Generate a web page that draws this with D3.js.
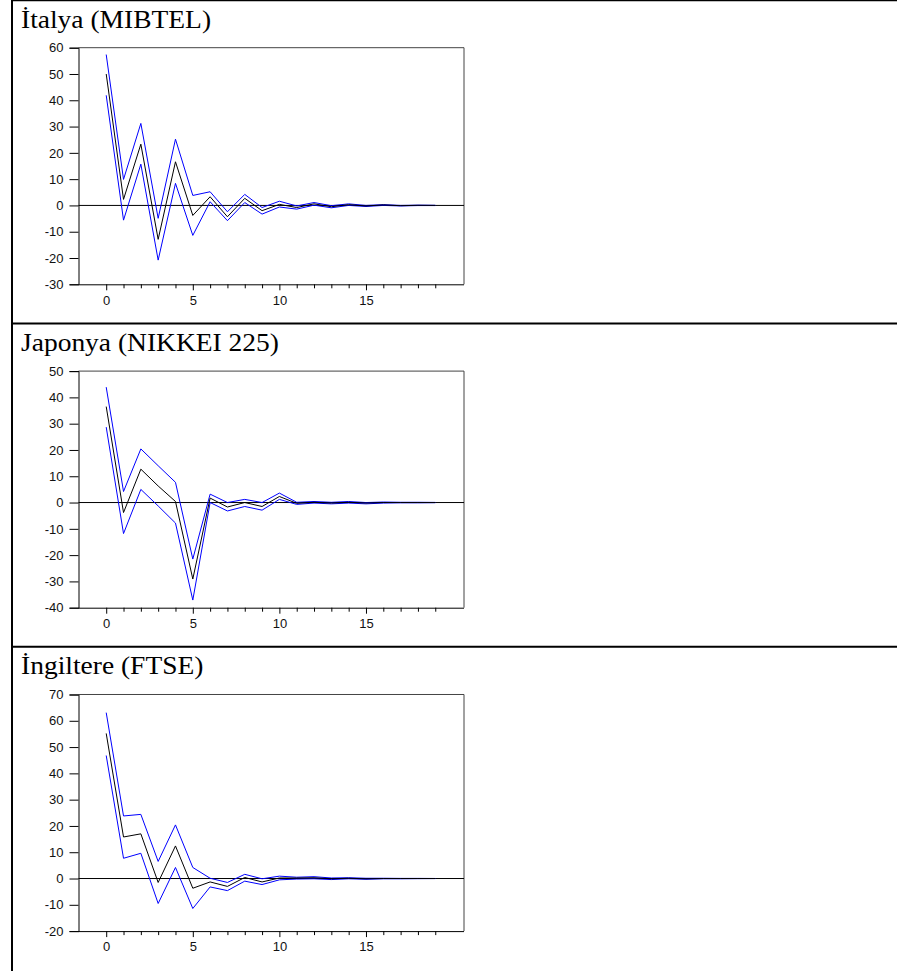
<!DOCTYPE html>
<html>
<head>
<meta charset="utf-8">
<script src="https://cdn.jsdelivr.net/npm/d3@7"></script>
<style>
  body { margin: 0; background: #fff; }
  svg { display: block; }
  .tick text { font-family: "Liberation Sans", Arial, sans-serif; font-size: 13px; fill: #111; }
</style>
</head>
<body>
<div id="chart"></div>
<script>
// lags 0..19
var lags = d3.range(0, 20);

var titles = ["İtalya (MIBTEL)", "Japonya (NIKKEI 225)", "İngiltere (FTSE)"];
var yDomains = [[-30, 60], [-40, 50], [-20, 70]];
var yTicks = [d3.range(-30, 61, 10), d3.range(-40, 51, 10), d3.range(-20, 71, 10)];

var italyMid = [50, 2.3, 23.3, -12.9, 16.6, -3.8, 3.3, -4.3, 2.7, -2.0, 0.4, -0.8, 0.6, -0.5, 0.3, -0.2, 0.2, -0.1, 0.05, 0.0];
var italyUp  = [57.4, 9.9, 31.2, -4.9, 25.2, 3.8, 5.2, -2.4, 4.2, -0.8, 1.6, -0.2, 1.1, -0.1, 0.6, 0.0, 0.3, 0.0, 0.1, 0.05];
var italyLo  = [41.9, -5.6, 15.7, -20.8, 8.4, -11.4, 1.4, -5.8, 1.1, -3.3, -0.6, -1.4, 0.1, -0.9, 0.0, -0.4, 0.0, -0.2, -0.05, -0.05];

var japanMid = [36.5, -3.8, 12.7, 6.3, 0.4, -29.1, 1.7, -1.7, 0.0, -1.5, 2.3, -0.3, 0.1, -0.2, 0.1, -0.2, 0.0, 0.0, 0.0, 0.0];
var japanUp  = [43.9, 4.2, 20.4, 14.0, 7.7, -21.5, 3.2, 0.0, 1.2, 0.0, 3.6, 0.1, 0.4, 0.1, 0.4, 0.0, 0.2, 0.1, 0.1, 0.05];
var japanLo  = [28.7, -11.8, 5.0, -1.3, -7.8, -37.1, 0.0, -3.2, -1.5, -2.9, 1.2, -0.7, -0.2, -0.5, -0.2, -0.5, -0.2, -0.1, -0.1, -0.05];

var ukMid = [55.2, 15.8, 17.0, -1.5, 12.4, -3.7, -1.3, -3.0, 0.4, -1.3, 0.2, 0.2, 0.3, -0.1, 0.1, -0.1, 0.0, 0.0, 0.0, 0.0];
var ukUp  = [63.1, 23.8, 24.4, 6.5, 20.4, 4.2, 0.1, -1.5, 1.6, -0.1, 0.9, 0.5, 0.7, 0.2, 0.3, 0.1, 0.1, 0.05, 0.05, 0.02];
var ukLo  = [46.8, 7.7, 9.6, -9.5, 4.2, -11.4, -3.2, -4.6, -1.0, -2.3, -0.5, -0.2, -0.1, -0.4, -0.1, -0.3, -0.1, -0.1, -0.05, -0.02];

var series = [
  [italyMid, italyUp, italyLo],
  [japanMid, japanUp, japanLo],
  [ukMid, ukUp, ukLo]
];

var W = 897, H = 971;
var panelH = 323.4;
var plot = {left: 78.5, right: 464, top: 47.7, bottom: 284.3};

var svg = d3.select("#chart").append("svg")
    .attr("width", W)
    .attr("height", H);

// outer frame: top line, left line, separators
svg.append("line").attr("x1", 12).attr("x2", W).attr("y1", 0.5).attr("y2", 0.5)
    .attr("stroke", "#000").attr("stroke-width", 1.5);
svg.append("line").attr("x1", 12).attr("x2", 12).attr("y1", 0).attr("y2", H)
    .attr("stroke", "#000").attr("stroke-width", 2);
[1, 2].forEach(function(i) {
  svg.append("line").attr("x1", 12).attr("x2", W)
      .attr("y1", i * panelH).attr("y2", i * panelH)
      .attr("stroke", "#000").attr("stroke-width", 2);
});

var x = d3.scaleLinear().domain([-1.6, 20.66]).range([plot.left, plot.right]);
var fmt = function(d) { return String(d); };  // plain hyphen for negatives

series.forEach(function(s, i) {
  var oy = i * panelH;
  var g = svg.append("g").attr("transform", "translate(0," + oy + ")");

  // title is a bit wide in the original, stretch it
  g.append("text")
      .attr("transform", "translate(21,27.5) scale(1.1,1)")
      .style("font-family", "'Liberation Serif', 'Times New Roman', serif")
      .style("font-size", "25px")
      .text(titles[i]);

  var y = d3.scaleLinear().domain(yDomains[i]).range([plot.bottom, plot.top]);

  // top and right frame
  g.append("line").attr("x1", plot.left).attr("x2", plot.right)
      .attr("y1", plot.top).attr("y2", plot.top).attr("stroke", "#444");
  g.append("line").attr("x1", plot.right).attr("x2", plot.right)
      .attr("y1", plot.top).attr("y2", plot.bottom).attr("stroke", "#444");

  // y axis
  var ya = g.append("g")
      .attr("transform", "translate(" + plot.left + ",0)")
      .call(d3.axisLeft(y).tickValues(yTicks[i]).tickSize(9).tickPadding(6).tickFormat(fmt));
  ya.select(".domain").attr("stroke", "#000");

  // x axis: minor ticks every lag, labels every 5
  var xMinor = g.append("g")
      .attr("transform", "translate(0," + plot.bottom + ")")
      .call(d3.axisBottom(x).tickValues(lags.filter(function(d) { return d % 5 != 0; })).tickSize(4).tickFormat(""));
  xMinor.select(".domain").remove();
  var xa = g.append("g")
      .attr("transform", "translate(0," + plot.bottom + ")")
      .call(d3.axisBottom(x).tickValues([0, 5, 10, 15]).tickSize(6).tickPadding(5).tickFormat(fmt));
  xa.select(".domain").attr("d", "M" + plot.left + ",0.5H" + plot.right).attr("stroke", "#000");

  // zero line
  g.append("line")
      .attr("x1", plot.left).attr("x2", plot.right)
      .attr("y1", y(0)).attr("y2", y(0))
      .attr("stroke", "#000");

  var line = d3.line()
      .x(function(d, j) { return x(lags[j]); })
      .y(function(d) { return y(d); });

  // bands first, then response
  [s[1], s[2]].forEach(function(b) {
    g.append("path").datum(b)
        .attr("d", line)
        .attr("fill", "none")
        .attr("stroke", "#0000ff")
        .attr("stroke-width", 1);
  });
  g.append("path").datum(s[0])
      .attr("d", line)
      .attr("fill", "none")
      .attr("stroke", "#000")
      .attr("stroke-width", 1);
});
</script>
</body>
</html>
